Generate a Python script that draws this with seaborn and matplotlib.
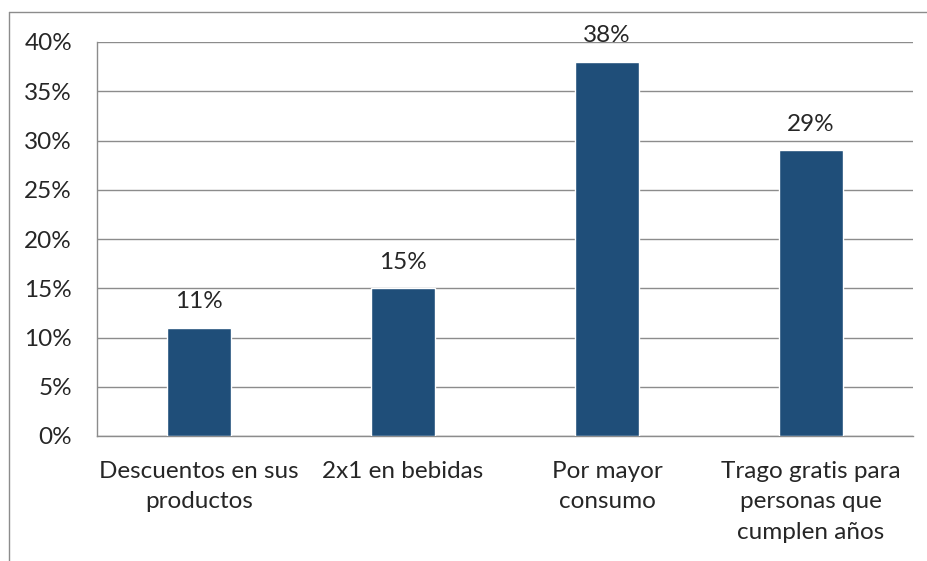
import numpy as np
import pandas as pd
import matplotlib
matplotlib.use("Agg")
import matplotlib.pyplot as plt
import seaborn as sns
from matplotlib.lines import Line2D

categorias = ["Descuentos en sus\nproductos", "2x1 en bebidas",
              "Por mayor\nconsumo", "Trago gratis para\npersonas que\ncumplen años"]
valores = [0.11, 0.15, 0.38, 0.29]
etiquetas = ["11%", "15%", "38%", "29%"]
ticks_y = [0, 0.05, 0.10, 0.15, 0.20, 0.25, 0.30, 0.35, 0.40]
ticks_y_txt = ["0%", "5%", "10%", "15%", "20%", "25%", "30%", "35%", "40%"]

sns.set_style("white")
plt.rcParams['font.family'] = ['Lato', 'DejaVu Sans']
fs = 17.5

df = pd.DataFrame({"cat": categorias, "val": valores})

fig = plt.figure(figsize=(9.28, 5.61), dpi=100)
ax = fig.add_axes([97 / 928, 1 - 436 / 561, 816 / 928, 394 / 561])

sns.barplot(data=df, x="cat", y="val", color="#1F4E79", saturation=1,
            width=0.31, ax=ax, zorder=3)

ax.set_ylim(0, 0.40)
ax.set_yticks(ticks_y)
ax.set_yticklabels(ticks_y_txt, fontsize=fs)
ax.yaxis.grid(True, color="#8c8c8c", linewidth=1, zorder=0)
ax.set_axisbelow(True)
ax.tick_params(axis="both", length=0)
ax.tick_params(axis="y", pad=18)
ax.tick_params(axis="x", pad=18)
for lbl in ax.get_xticklabels():
    lbl.set_fontsize(fs)
    lbl.set_linespacing(1.55)
ax.set_xlabel("")
ax.set_ylabel("")
for side in ["top", "right"]:
    ax.spines[side].set_visible(False)
for side in ["left", "bottom"]:
    ax.spines[side].set_color("#8c8c8c")
    ax.spines[side].set_linewidth(1)

for i, (v, t) in enumerate(zip(valores, etiquetas)):
    ax.annotate(t, (i, v), xytext=(0, 11), textcoords="offset points",
                ha="center", va="bottom", fontsize=fs)

# borde exterior del grafico
fig.add_artist(Line2D([9 / 928, 9 / 928], [0, 1 - 12 / 561], color="#8c8c8c", lw=1,
                      transform=fig.transFigure))
fig.add_artist(Line2D([9 / 928, 1], [1 - 12 / 561, 1 - 12 / 561], color="#8c8c8c", lw=1,
                      transform=fig.transFigure))

fig.savefig("out.png", dpi=100)
